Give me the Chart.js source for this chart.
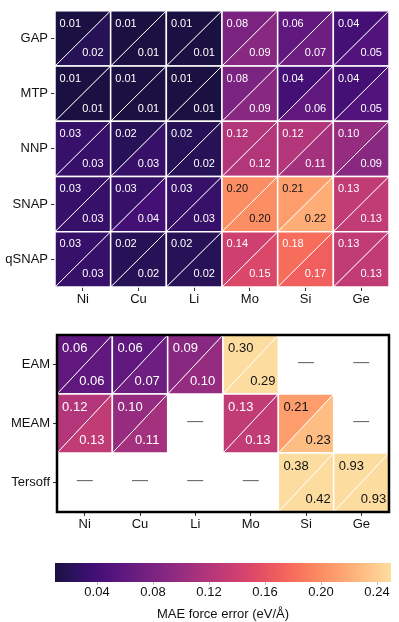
<!DOCTYPE html>
<html>
<head>
<meta charset="utf-8">
<script src="https://cdn.jsdelivr.net/npm/chart.js@4.4.1/dist/chart.umd.min.js"></script>
<style>
  html, body { margin:0; padding:0; background:#fff; }
  #wrap { position:relative; width:399px; height:622px; overflow:hidden; }
  canvas { position:absolute; left:0; }
</style>
</head>
<body>
<div id="wrap">
  <canvas id="cTop" width="399" height="310" style="top:0px"></canvas>
  <canvas id="cBottom" width="399" height="215" style="top:320px"></canvas>
  <canvas id="cBar" width="399" height="82" style="top:540px"></canvas>
</div>
<script>
// ---------------- DATA ----------------
const elements = ['Ni', 'Cu', 'Li', 'Mo', 'Si', 'Ge'];
const mlModels = ['GAP', 'MTP', 'NNP', 'SNAP', 'qSNAP'];
const classicModels = ['EAM', 'MEAM', 'Tersoff'];

// upper-left triangle values (rows = models, cols = elements)
const mlUpper = [
  [0.01, 0.01, 0.01, 0.08, 0.06, 0.04],
  [0.01, 0.01, 0.01, 0.08, 0.04, 0.04],
  [0.03, 0.02, 0.02, 0.12, 0.12, 0.10],
  [0.03, 0.03, 0.03, 0.20, 0.21, 0.13],
  [0.03, 0.02, 0.02, 0.14, 0.18, 0.13]
];
// lower-right triangle values
const mlLower = [
  [0.02, 0.01, 0.01, 0.09, 0.07, 0.05],
  [0.01, 0.01, 0.01, 0.09, 0.06, 0.05],
  [0.03, 0.03, 0.02, 0.12, 0.11, 0.09],
  [0.03, 0.04, 0.03, 0.20, 0.22, 0.13],
  [0.03, 0.02, 0.02, 0.15, 0.17, 0.13]
];
const classicUpper = [
  [0.06, 0.06, 0.09, 0.30, null, null],
  [0.12, 0.10, null, 0.13, 0.21, null],
  [null, null, null, null, 0.38, 0.93]
];
const classicLower = [
  [0.06, 0.07, 0.10, 0.29, null, null],
  [0.13, 0.11, null, 0.13, 0.23, null],
  [null, null, null, null, 0.42, 0.93]
];
const colorbarTicks = [0.04, 0.08, 0.12, 0.16, 0.20, 0.24];
const colorMin = 0.01;
const colorMax = 0.25;
const colorbarTitle = 'MAE force error (eV/Å)';

// ---------------- STYLE ----------------
const FONT = "'Liberation Sans', Arial, Helvetica, sans-serif";
const magmaStops = ['#000004','#0b0924','#140e36','#251255','#3b0f70','#51127c','#641a80','#782281',
  '#8c2981','#a1307e','#b73779','#ca3e72','#de4968','#ee5a5f','#f7705c','#fc8961','#fe9f6d',
  '#feb77e','#fecf92','#fde6a8','#fcfdbf'];
function hexToRgb(h) { return [parseInt(h.substr(1,2),16), parseInt(h.substr(3,2),16), parseInt(h.substr(5,2),16)]; }
const magmaRgb = magmaStops.map(hexToRgb);
function magma(t) {
  t = Math.max(0, Math.min(1, t));
  const p = t * (magmaRgb.length - 1);
  const i = Math.min(Math.floor(p), magmaRgb.length - 2);
  const f = p - i;
  const a = magmaRgb[i], b = magmaRgb[i + 1];
  const c = a.map((v, k) => Math.round(v + (b[k] - v) * f));
  return `rgb(${c[0]},${c[1]},${c[2]})`;
}
function colorFor(v) {
  const f = Math.max(0, Math.min(1, (v - colorMin) / (colorMax - colorMin)));
  return magma(0.12 + 0.81 * f);
}
function textColorFor(v) { return v >= 0.19 ? '#111111' : '#ffffff'; }

function cellData(upper, lower) {
  const out = [];
  upper.forEach((row, i) => row.forEach((u, j) => {
    out.push({ x: elements[j], y: i, up: u, lo: lower[i][j] });
  }));
  return out;
}

function triPlugin(opts) {
  return {
    id: 'triCells',
    afterDatasetsDraw(chart) {
      const { ctx, scales: { x, y } } = chart;
      const w = x.getPixelForValue(1) - x.getPixelForValue(0);
      const h = y.getPixelForValue(1) - y.getPixelForValue(0);
      const data = chart.data.datasets[0].data;
      ctx.save();
      data.forEach(d => {
        const cx = x.getPixelForValue(elements.indexOf(d.x));
        const cy = y.getPixelForValue(d.y);
        const L = cx - w / 2, R = cx + w / 2, T = cy - h / 2, B = cy + h / 2;
        if (d.up === null) {
          ctx.fillStyle = '#6b6b6b';
          ctx.font = `16px ${FONT}`;
          ctx.textAlign = 'center';
          ctx.textBaseline = 'middle';
          ctx.fillText('—', cx, cy - 2);
          return;
        }
        // upper-left triangle
        ctx.beginPath(); ctx.moveTo(L, T); ctx.lineTo(R, T); ctx.lineTo(L, B); ctx.closePath();
        ctx.fillStyle = colorFor(d.up); ctx.fill();
        // lower-right triangle
        ctx.beginPath(); ctx.moveTo(R, T); ctx.lineTo(R, B); ctx.lineTo(L, B); ctx.closePath();
        ctx.fillStyle = colorFor(d.lo); ctx.fill();
        // diagonal
        ctx.strokeStyle = '#ffffff'; ctx.lineWidth = 1;
        ctx.beginPath(); ctx.moveTo(L, B); ctx.lineTo(R, T); ctx.stroke();
        // border
        ctx.lineWidth = 1.5;
        ctx.strokeRect(L, T, w, h);
        // labels
        ctx.font = `${opts.fontSize}px ${FONT}`;
        ctx.textAlign = 'center';
        ctx.textBaseline = 'middle';
        ctx.fillStyle = textColorFor(d.up);
        ctx.fillText(d.up.toFixed(2), cx + opts.upDx * w, cy - opts.dy * h);
        ctx.fillStyle = textColorFor(d.lo);
        const ldx = d.lo >= 0.19 ? opts.loDxDark : opts.loDx;
        ctx.fillText(d.lo.toFixed(2), cx + ldx * w, cy + opts.dy * h);
      });
      ctx.restore();
    }
  };
}

const framePlugin = {
  id: 'frame',
  afterDraw(chart) {
    const { ctx, chartArea: a } = chart;
    ctx.save();
    ctx.strokeStyle = '#000'; ctx.lineWidth = 2.5;
    ctx.strokeRect(a.left, a.top, a.right - a.left, a.bottom - a.top);
    ctx.restore();
  }
};

function xAxis(height) {
  return {
    type: 'category', labels: elements, offset: true, position: 'bottom',
    grid: { display: true, drawOnChartArea: false, drawTicks: true, tickLength: 4, color: '#333', lineWidth: 1, offset: false },
    border: { display: false },
    ticks: { font: { family: FONT, size: 13 }, color: '#111', padding: 1, maxRotation: 0, autoSkip: false },
    afterFit(s) { s.height = height; }
  };
}
function yAxis(labels, width) {
  return {
    type: 'category', labels: labels, offset: true, position: 'left',
    grid: { display: true, drawOnChartArea: false, drawTicks: true, tickLength: 4, color: '#333', lineWidth: 1, offset: false },
    border: { display: false },
    ticks: { font: { family: FONT, size: 13 }, color: '#111', padding: 3, autoSkip: false },
    afterFit(s) { s.width = width; }
  };
}

function heatmap(id, models, upper, lower, yWidth, pad, textOpts, extraPlugins) {
  return new Chart(document.getElementById(id), {
    type: 'scatter',
    data: { datasets: [{ data: cellData(upper, lower), pointRadius: 0, pointHoverRadius: 0 }] },
    options: {
      responsive: false, animation: false, devicePixelRatio: 1, events: [],
      layout: { padding: pad },
      plugins: { legend: { display: false }, tooltip: { enabled: false } },
      scales: {
        x: xAxis(23),
        y: Object.assign(yAxis(models, yWidth), {})
      }
    },
    plugins: [triPlugin(textOpts)].concat(extraPlugins || [])
  });
}

heatmap('cTop', mlModels, mlUpper, mlLower, 55,
  { top: 8, right: 10, left: 0, bottom: 0 },
  { fontSize: 11, upDx: -0.225, loDx: 0.18, loDxDark: 0.18, dy: 0.27 });

heatmap('cBottom', classicModels, classicUpper, classicLower, 57,
  { top: 15, right: 10, left: 0, bottom: 0 },
  { fontSize: 13, upDx: -0.18, loDx: 0.13, loDxDark: 0.22, dy: 0.28 }, [framePlugin]);

// ---------------- COLORBAR ----------------
const gradientPlugin = {
  id: 'gradientBar',
  beforeDatasetsDraw(chart) {
    const { ctx, chartArea: a, scales: { x } } = chart;
    const x0 = x.getPixelForValue(colorMin), x1 = x.getPixelForValue(colorMax);
    const g = ctx.createLinearGradient(x0, 0, x1, 0);
    for (let k = 0; k <= 48; k++) {
      const v = colorMin + (colorMax - colorMin) * k / 48;
      g.addColorStop(k / 48, colorFor(v));
    }
    ctx.save();
    ctx.fillStyle = g;
    ctx.fillRect(x0, a.top, x1 - x0, a.bottom - a.top);
    ctx.restore();
  }
};

new Chart(document.getElementById('cBar'), {
  type: 'scatter',
  data: { datasets: [] },
  options: {
    responsive: false, animation: false, devicePixelRatio: 1, events: [],
    layout: { padding: { top: 23, left: 55, right: 8, bottom: 0 } },
    plugins: { legend: { display: false }, tooltip: { enabled: false } },
    scales: {
      y: { display: false, min: 0, max: 1 },
      x: {
        type: 'linear', min: colorMin, max: colorMax, position: 'bottom',
        afterBuildTicks(s) { s.ticks = colorbarTicks.map(v => ({ value: v })); },
        grid: { display: true, drawOnChartArea: false, drawTicks: true, tickLength: 3, color: '#bbbbbb' },
        border: { display: false },
        ticks: { font: { family: FONT, size: 13 }, color: '#111', padding: 0, callback: v => Number(v).toFixed(2) },
        title: { display: true, text: colorbarTitle, font: { family: FONT, size: 13 }, color: '#111', padding: { top: 0, bottom: 0 } },
        afterFit(s) { s.height = 40; }
      }
    }
  },
  plugins: [gradientPlugin]
});
</script>
</body>
</html>
